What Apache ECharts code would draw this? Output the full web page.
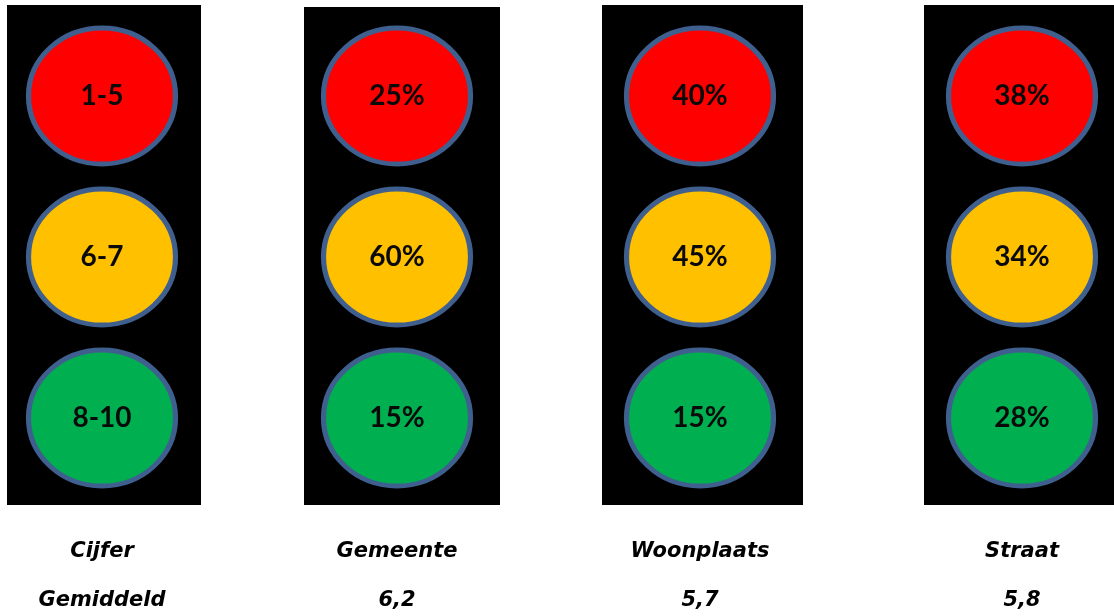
<!DOCTYPE html>
<html>
<head>
<meta charset="utf-8">
<script src="https://cdn.jsdelivr.net/npm/echarts@6/dist/echarts.min.js"></script>
<style>
  html, body { margin: 0; padding: 0; background: #fff; }
</style>
</head>
<body>
<div id="stoplicht" style="width:1114px;height:616px"></div>
<script>
// data
const kolommen = ['Cijfer', 'Gemeente', 'Woonplaats', 'Straat'];
const gemiddeld = ['Gemiddeld', '6,2', '5,7', '5,8'];
const lampen = ['rood', 'oranje', 'groen'];
const cijferKlassen = ['1-5', '6-7', '8-10'];
const gemeente = [25, 60, 15];
const woonplaats = [40, 45, 15];
const straat = [38, 34, 28];

// layout (black housings + ellipse column centers)
const kasten = [
  { x: 7, y: 5, w: 194, h: 500 },
  { x: 304, y: 7, w: 196, h: 498 },
  { x: 602, y: 5, w: 201, h: 500 },
  { x: 924, y: 5, w: 190, h: 500 }
];
const midden = [102, 397, 700, 1022];
const lampKleur = { rood: '#ff0000', oranje: '#ffc000', groen: '#00b050' };

const labelsPerKolom = [
  cijferKlassen,
  gemeente.map(v => v + '%'),
  woonplaats.map(v => v + '%'),
  straat.map(v => v + '%')
];

const chart = echarts.init(document.getElementById('stoplicht'));

const grids = [], xAxes = [], yAxes = [], series = [];
kolommen.forEach(function (kolom, i) {
  grids.push({ left: midden[i] - 75, width: 150, top: 15.5, height: 483 });
  xAxes.push({
    gridIndex: i,
    type: 'category',
    data: [kolom],
    axisLine: { show: false },
    axisTick: { show: false },
    splitLine: { show: false },
    axisLabel: {
      margin: 29,
      formatter: function () {
        return '{a|' + kolom + '}\n{a|' + gemiddeld[i] + '}';
      },
      rich: {
        a: {
          fontFamily: 'DejaVu Sans',
          fontStyle: 'italic',
          fontWeight: 'bold',
          fontSize: 21,
          lineHeight: 49,
          color: '#000'
        }
      }
    }
  });
  yAxes.push({
    gridIndex: i,
    type: 'category',
    inverse: true,
    data: lampen,
    show: false
  });
  series.push({
    type: 'scatter',
    xAxisIndex: i,
    yAxisIndex: i,
    silent: true,
    symbol: 'circle',
    symbolSize: [147, 136],
    data: lampen.map(function (lamp, j) {
      return {
        value: [kolom, lamp],
        itemStyle: { color: lampKleur[lamp] },
        label: { formatter: labelsPerKolom[i][j] }
      };
    }),
    itemStyle: { borderColor: '#3f5f8f', borderWidth: 5, opacity: 1 },
    label: {
      show: true,
      position: 'inside',
      fontFamily: 'Lato',
      fontWeight: 'bold',
      fontSize: 28,
      color: '#0a0a0a'
    }
  });
});

chart.setOption({
  backgroundColor: '#fff',
  animation: false,
  graphic: kasten.map(function (k) {
    return {
      type: 'rect',
      z: -10,
      silent: true,
      shape: { x: k.x, y: k.y, width: k.w, height: k.h },
      style: { fill: '#000' }
    };
  }),
  grid: grids,
  xAxis: xAxes,
  yAxis: yAxes,
  series: series
});
window.addEventListener('resize', () => { chart.resize(); });
</script>
</body>
</html>
